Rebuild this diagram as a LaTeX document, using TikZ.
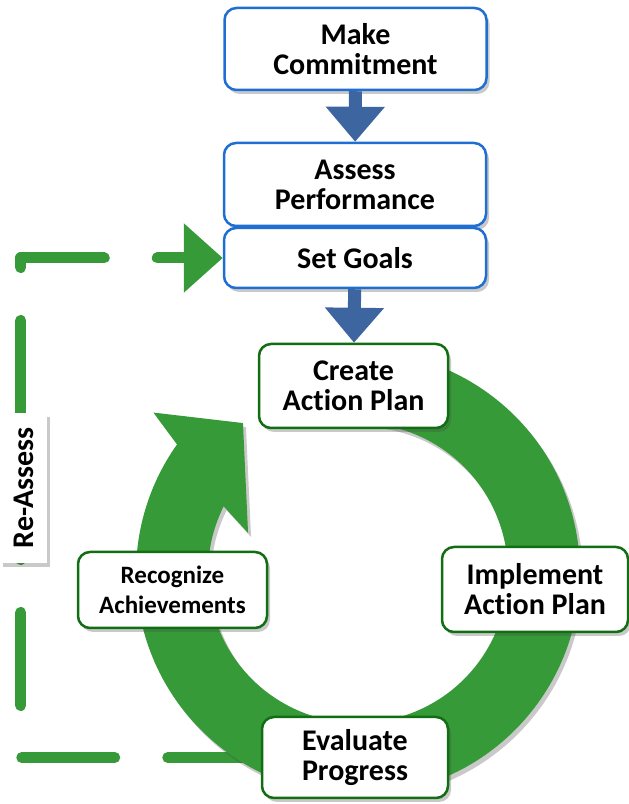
\documentclass[tikz,border=0pt]{standalone}
\usepackage{fontspec}
\setmainfont{Carlito}[Ligatures={NoCommon}]
\usetikzlibrary{arrows.meta,shadows,calc,backgrounds}
\definecolor{boxblue}{RGB}{31,111,210}
\definecolor{arrowblue}{RGB}{61,101,160}
\definecolor{boxgreen}{RGB}{18,110,18}
\definecolor{loopgreen}{RGB}{53,154,55}
\tikzset{
	softshadow/.style={drop shadow={shadow xshift=3pt, shadow yshift=-4pt, opacity=0.3, fill=black!70}},
	stagebox/.style={rectangle, rounded corners=12pt, line width=2.5pt, fill=white, align=center, inner sep=0pt,
		font=\bfseries\fontsize{30}{30}\selectfont, softshadow},
	planbox/.style={stagebox, draw=boxblue, minimum width=262pt},
	cyclebox/.style={stagebox, draw=boxgreen, minimum width=187pt},
	flowarrow/.style={arrowblue, line width=13pt, -{Triangle[length=35pt, width=57pt]}},
	reloop/.style={loopgreen, line width=11pt, line cap=round, line join=round,
		dash pattern=on 93pt off 53pt, -{Triangle[length=39pt, width=67pt]}},
}
\begin{document}
\begin{tikzpicture}[x=1pt, y=1pt]
	\useasboundingbox (0,0) rectangle (629,804);
	\coordinate (hub) at (358,231);

	\node[planbox, minimum height=82pt] (commit) at (355.5,755) {Make\\Commitment};
	\node[planbox, minimum height=83pt] (assess) at (355,619.5) {Assess\\Performance};
	\node[planbox, minimum height=60pt] (goals) at (355,546) {Set Goals};
	\node[cyclebox, minimum height=84pt, minimum width=189pt] (create) at (353.5,418) {Create\\Action Plan};
	\node[cyclebox, minimum height=85pt, minimum width=186pt] (implement) at (535,214.5) {Implement\\Action Plan};
	\node[cyclebox, minimum height=81pt, minimum width=186pt] (evaluate) at (355,46.5) {Evaluate\\Progress};
	\node[cyclebox, minimum height=76pt, minimum width=189pt, font=\bfseries\fontsize{25}{30}\selectfont]
		(recognize) at (172.5,214) {Recognize\\Achievements};
	\node[rectangle, fill=white, softshadow, rotate=90, minimum width=150pt, minimum height=47pt, inner sep=0pt,
		font=\bfseries\fontsize{30}{30}\selectfont] (reassess) at (23.5,316) {Re-Assess};

	\begin{scope}[on background layer]
		\draw[reloop] (evaluate.west) -- ++(-240,0) |- (goals.west);
		\fill[loopgreen, softshadow] ($(hub)+(95:222)$)
			arc[start angle=95, end angle=-215.4, radius=222pt]
			-- ($(hub)+(141.9:260)$) -- ($(hub)+(127.5:189)$) -- ($(hub)+(160:117)$)
			-- ($(hub)+(153.6:150)$)
			arc[start angle=-206.4, end angle=95, radius=150pt] -- cycle;
	\end{scope}

	\draw[flowarrow] (commit) -- (assess);
	\draw[flowarrow] (goals) -- (create);
\end{tikzpicture}
\end{document}
